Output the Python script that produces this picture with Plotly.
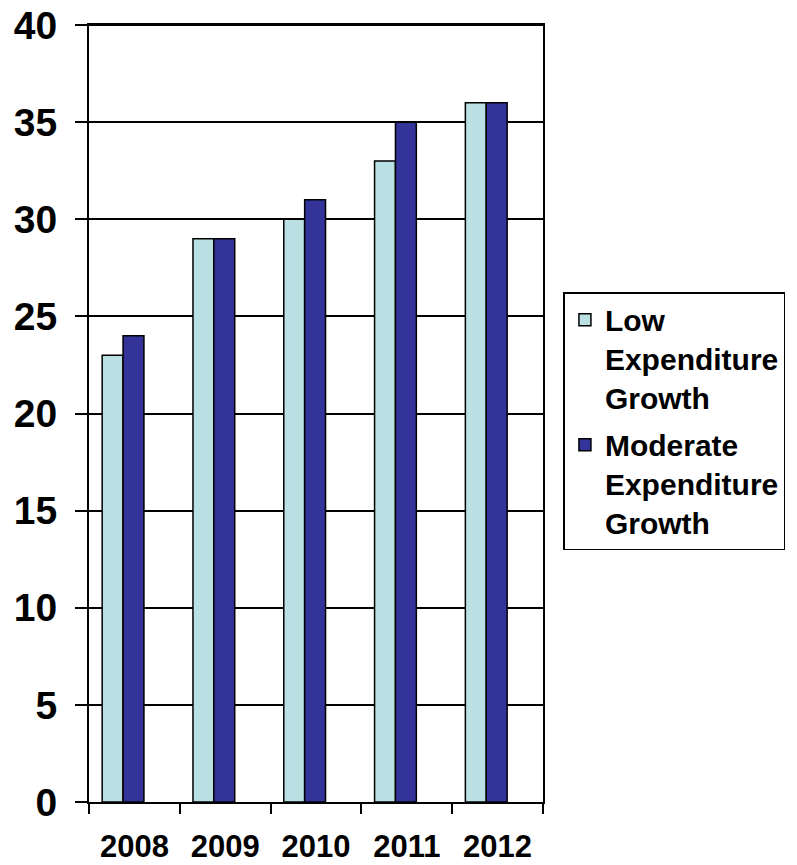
import plotly.graph_objects as go

years = ["2008", "2009", "2010", "2011", "2012"]
low_growth = [23, 29, 30, 33, 36]
moderate_growth = [24, 29, 31, 35, 36]
series_names = ["Low<br>Expenditure<br>Growth", "Moderate<br>Expenditure<br>Growth"]

FONT = "Liberation Sans, Arial, sans-serif"

fig = go.Figure()
fig.add_trace(go.Bar(
    x=years, y=low_growth, name=series_names[0], legendgroup="low",
    marker=dict(color="#BBE0E3", line=dict(color="black", width=1.5)),
    width=0.23, offset=-0.355,
))
fig.add_trace(go.Bar(
    x=years, y=moderate_growth, name=series_names[1], legendgroup="mod",
    marker=dict(color="#333399", line=dict(color="black", width=1.5)),
    width=0.23, offset=-0.125,
))

fig.update_layout(
    width=797, height=865,
    margin=dict(l=89, r=252, t=25, b=63),
    paper_bgcolor="white", plot_bgcolor="white",
    font=dict(family=FONT, color="black"),
    barmode="overlay",
    legend=dict(
        x=1.045, y=0.656, xanchor="left", yanchor="top",
        bordercolor="black", borderwidth=1.5, bgcolor="white",
        font=dict(size=30, family=FONT, color="black", weight="bold"),
        valign="top", tracegroupgap=5,
    ),
    shapes=[dict(type="line", xref="paper", yref="paper", x0=0, x1=1, y0=1, y1=1,
                 line=dict(color="black", width=2))],
)
fig.update_xaxes(
    type="category", showline=True, linecolor="black", linewidth=2, mirror=True,
    ticks="outside", tickson="boundaries", ticklen=10, tickwidth=2, tickcolor="black",
    tickfont=dict(size=31, family=FONT, color="black", weight="bold"),
    ticklabelstandoff=16, showgrid=False, automargin=False, ticklabeloverflow="allow",
)
fig.update_yaxes(
    range=[0, 40], dtick=5, showline=True, linecolor="black", linewidth=2, mirror=True,
    ticks="outside", ticklen=12, tickwidth=2, tickcolor="black",
    showgrid=True, gridcolor="black", gridwidth=1.5, zeroline=False,
    tickfont=dict(size=39, family=FONT, color="black", weight="bold"),
    ticklabelstandoff=10, automargin=False, ticklabeloverflow="allow",
)

fig.write_html(
    "out.html",
    config={"displayModeBar": False},
    post_script="document.body.style.margin='0px';document.body.style.padding='0px';",
)
